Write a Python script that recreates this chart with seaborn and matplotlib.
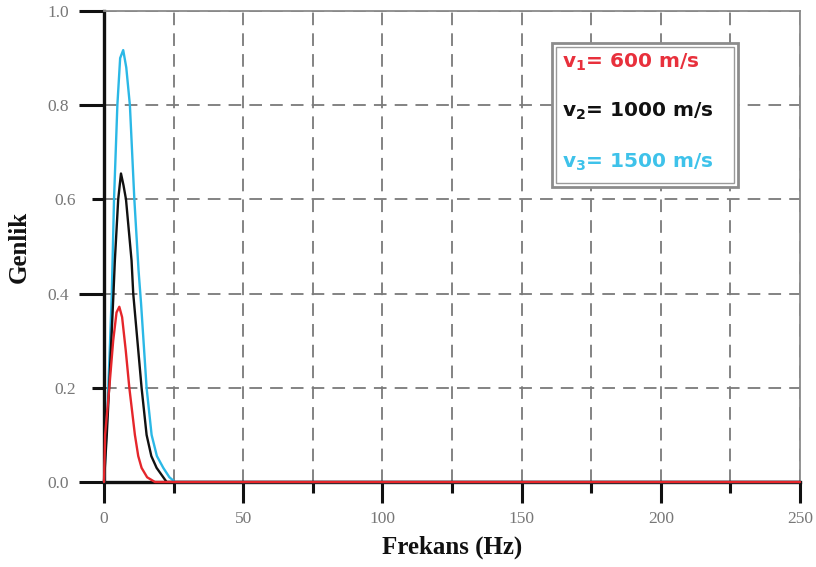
import matplotlib
matplotlib.use("Agg")
import matplotlib.pyplot as plt
from matplotlib.patches import Rectangle
from matplotlib.ticker import FixedLocator, FixedFormatter, NullFormatter
import pandas as pd
import seaborn as sns

# Amplitude spectra for three propagation velocities
freq_v1 = [0, 0.4, 1.9, 3.3, 4.5, 5.5, 6.5, 7.8, 9.1, 11.1, 12.3, 13.5, 15.5, 18.3, 30, 250]
amp_v1 = [0, 0.10, 0.20, 0.30, 0.36, 0.372, 0.35, 0.28, 0.20, 0.10, 0.055, 0.03, 0.01, 0, 0, 0]

freq_v2 = [0, 1, 2, 3.4, 3.9, 5.1, 6.1, 7.0, 7.9, 9.9, 10.5, 13.5, 15.3, 17.0, 18.9, 22.5, 30, 250]
amp_v2 = [0, 0.10, 0.22, 0.40, 0.47, 0.60, 0.655, 0.63, 0.60, 0.47, 0.40, 0.20, 0.10, 0.055, 0.03, 0, 0, 0]

freq_v3 = [0, 1, 2, 2.8, 3.6, 4.8, 5.8, 6.9, 8.0, 9.3, 10.9, 12.4, 13.3, 15.3, 17.1, 19.0, 21.3, 23.5, 25.5, 30, 250]
amp_v3 = [0, 0.12, 0.27, 0.40, 0.60, 0.80, 0.90, 0.917, 0.88, 0.80, 0.60, 0.45, 0.38, 0.20, 0.10, 0.055, 0.03, 0.01, 0, 0, 0]

series_labels = ["v$_1$= 600 m/s", "v$_2$= 1000 m/s", "v$_3$= 1500 m/s"]
series_colors = ["#e5262b", "#111111", "#2bb8e6"]
label_colors = ["#e8303c", "#111111", "#3ec2ea"]

x_major = [0, 50, 100, 150, 200, 250]
x_minor = [25, 75, 125, 175, 225]
y_major = [0.0, 0.4, 0.8, 1.0]
y_minor = [0.2, 0.6]

sns.set_theme(style="white")
plt.rcParams["mathtext.fontset"] = "custom"
plt.rcParams["mathtext.bf"] = "DejaVu Sans:bold"
plt.rcParams["mathtext.rm"] = "DejaVu Sans:bold"
plt.rcParams["mathtext.default"] = "bf"

fig = plt.figure(figsize=(8.16, 5.67), dpi=100)
ax = fig.add_axes([104 / 816, 1 - 482 / 567, 696 / 816, 471 / 567])

frames = []
for f, a, lab in zip([freq_v1, freq_v2, freq_v3], [amp_v1, amp_v2, amp_v3], series_labels):
    frames.append(pd.DataFrame({"Frekans": f, "Genlik": a, "seri": lab}))
df = pd.concat(frames, ignore_index=True)

palette = dict(zip(series_labels, series_colors))
# cyan first, red last so the red trace sits on top along the baseline
for i, lab in enumerate(series_labels[::-1]):
    sub = df[df["seri"] == lab]
    sns.lineplot(data=sub, x="Frekans", y="Genlik", color=palette[lab], lw=1.7,
                 ax=ax, legend=False, sort=False)
    line = ax.lines[-1]
    line.set_clip_on(False)
    line.set_zorder(4 + i)

ax.set_xlim(0, 250)
ax.set_ylim(0, 1.0)

# Ticks
ax.xaxis.set_major_locator(FixedLocator(x_major))
ax.xaxis.set_minor_locator(FixedLocator(x_minor))
ax.xaxis.set_major_formatter(FixedFormatter([str(v) for v in x_major]))
ax.xaxis.set_minor_formatter(NullFormatter())
ax.yaxis.set_major_locator(FixedLocator(y_major))
ax.yaxis.set_minor_locator(FixedLocator(y_minor))
ax.yaxis.set_major_formatter(FixedFormatter([f"{v:.1f}" for v in y_major]))
ax.yaxis.set_minor_formatter(FixedFormatter([f"{v:.1f}" for v in y_minor]))

ax.tick_params(axis="x", which="major", direction="out", length=15, width=2.2,
               color="#111111", labelcolor="#777777", pad=6, bottom=True)
ax.tick_params(axis="x", which="minor", direction="out", length=8, width=2.2,
               color="#111111", bottom=True)
ax.tick_params(axis="y", which="major", direction="out", length=18, width=2.2,
               color="#111111", labelcolor="#777777", pad=7, left=True)
ax.tick_params(axis="y", which="minor", direction="out", length=9, width=2.2,
               color="#111111", labelcolor="#777777", pad=11, left=True)
for lab in ax.get_xticklabels() + ax.get_yticklabels() + ax.get_yticklabels(minor=True):
    lab.set_fontfamily("Liberation Serif")
    lab.set_fontsize(12.5)

# Dashed grid
ax.grid(True, which="both", linestyle=(0, (7, 4.5)), color="#7a7a7a", lw=1.3, zorder=1)
ax.set_axisbelow(True)

# Frame
for side in ["left", "bottom"]:
    ax.spines[side].set_color("#111111")
    ax.spines[side].set_linewidth(2.4)
for side in ["top", "right"]:
    ax.spines[side].set_color("#8a8a8a")
    ax.spines[side].set_linewidth(1.3)
    ax.spines[side].set_visible(True)

ax.set_xlabel("Frekans (Hz)", fontfamily="Liberation Serif", fontweight="bold",
              fontsize=18, color="#111111", labelpad=6)
ax.set_ylabel("Genlik", fontfamily="Liberation Serif", fontweight="bold",
              fontsize=18, color="#111111", labelpad=12)

# Velocity key box with double border
ax.add_patch(Rectangle((0.6437, 0.626), 0.2673, 0.306, transform=ax.transAxes,
                       facecolor="white", edgecolor="#8c8c8c", lw=2.0, zorder=10))
ax.add_patch(Rectangle((0.6494, 0.6348), 0.2556, 0.2888, transform=ax.transAxes,
                       facecolor="white", edgecolor="#9a9a9a", lw=1.0, zorder=11))
for lab, col, yy in zip(series_labels, label_colors, [0.892, 0.786, 0.679]):
    ax.text(0.658, yy, lab, transform=ax.transAxes, color=col, ha="left", va="center",
            fontfamily="DejaVu Sans", fontweight="bold", fontsize=14.5, zorder=12)

fig.savefig("out.png", dpi=100, facecolor="white")
